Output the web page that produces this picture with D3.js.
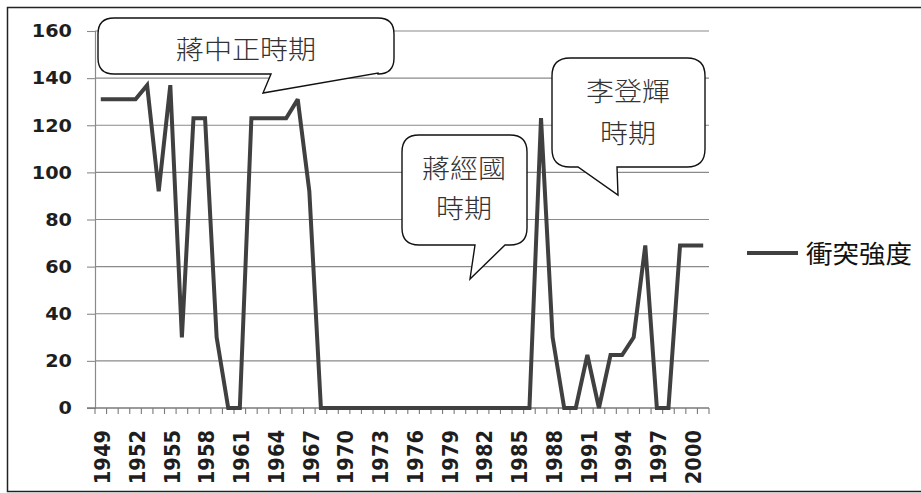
<!DOCTYPE html>
<html>
<head>
<meta charset="utf-8">
<script src="https://cdn.jsdelivr.net/npm/d3@7"></script>
<style>
  html, body { margin: 0; padding: 0; background: #fff; }
  svg { display: block; }
</style>
</head>
<body>
<svg id="chart" width="921" height="493"></svg>
<script>
// ---- data ----
const years = [1949,1950,1951,1952,1953,1954,1955,1956,1957,1958,1959,1960,1961,1962,1963,1964,1965,1966,1967,1968,
  1969,1970,1971,1972,1973,1974,1975,1976,1977,1978,1979,1980,1981,1982,1983,1984,1985,1986,
  1987,1988,1989,1990,1991,1992,1993,1994,1995,1996,1997,1998,1999,2000,2001];
const conflict = [131,131,131,131,137,92,137,30,123,123,30,0,0,123,123,123,123,131,92,0,
  0,0,0,0,0,0,0,0,0,0,0,0,0,0,0,0,0,0,
  123,30,0,0,22.5,0,22.5,22.5,30,69,0,0,69,69,69];
const yTicks = [0,20,40,60,80,100,120,140,160];
const xLabelYears = [1949,1952,1955,1958,1961,1964,1967,1970,1973,1976,1979,1982,1985,1988,1991,1994,1997,2000];
const seriesName = "衝突強度";
const callouts = [
  { lines: ["蔣中正時期"] },
  { lines: ["蔣經國", "時期"] },
  { lines: ["李登輝", "時期"] }
];

// ---- layout ----
const svg = d3.select("#chart");
const plot = { left: 95, right: 709, top: 31, bottom: 408 };
const x = d3.scaleBand().domain(years).range([plot.left, plot.right]).padding(0);
const y = d3.scaleLinear().domain([0, 160]).range([plot.bottom, plot.top]);
const cx = d => x(d) + x.bandwidth() / 2;
const SX = 1.1;
const numFont = "'DejaVu Sans', Verdana, sans-serif";
const cjkFont = "'Noto Sans CJK TC', 'Noto Sans CJK SC', sans-serif";

// frame (top, left, bottom)
svg.append("path").attr("d", "M921,7.5 H7.5 V491.5 H921")
  .attr("fill", "none").attr("stroke", "#222").attr("stroke-width", 1.5);

// gridlines
svg.append("g").selectAll("line").data(yTicks.filter(t => t > 0)).join("line")
  .attr("x1", plot.left).attr("x2", plot.right)
  .attr("y1", d => y(d)).attr("y2", d => y(d))
  .attr("stroke", "#8a8a8a").attr("stroke-width", 1.1);

// y axis
const yAxis = svg.append("g").attr("transform", `translate(${plot.left},0)`)
  .call(d3.axisLeft(y).tickValues(yTicks).tickSize(8).tickFormat(""));
yAxis.select(".domain").attr("stroke", "#8a8a8a").attr("stroke-width", 1.2);
yAxis.selectAll(".tick line").attr("stroke", "#8a8a8a").attr("stroke-width", 1.1);

svg.append("g").selectAll("text").data(yTicks).join("text")
  .attr("transform", d => `translate(72,${y(d)}) scale(${SX},1)`)
  .attr("text-anchor", "end").attr("dy", "0.36em")
  .attr("font-family", numFont).attr("font-weight", "bold").attr("font-size", 17.5)
  .attr("fill", "#1e1e1e").text(d => d);

// x axis line and boundary ticks
svg.append("line").attr("x1", 87).attr("x2", plot.right)
  .attr("y1", plot.bottom).attr("y2", plot.bottom)
  .attr("stroke", "#7a7a7a").attr("stroke-width", 1.3);
const bounds = years.map(d => x(d)).concat([plot.right]);
svg.append("g").selectAll("line").data(bounds).join("line")
  .attr("x1", d => d).attr("x2", d => d)
  .attr("y1", plot.bottom).attr("y2", plot.bottom + 6)
  .attr("stroke", "#7a7a7a").attr("stroke-width", 1.1);

svg.append("g").selectAll("text").data(xLabelYears).join("text")
  .attr("transform", d => `translate(${cx(d) + 1.5},430) scale(${SX},1) rotate(-90)`)
  .attr("text-anchor", "end").attr("dy", "0.36em")
  .attr("font-family", numFont).attr("font-weight", "bold").attr("font-size", 19.5)
  .attr("fill", "#1e1e1e").text(d => d);

// callout bubbles
function bubble(x0, y0, x1, y1, r, w) {
  const p = d3.path();
  p.moveTo(x0 + r, y0);
  p.lineTo(x1 - r, y0);
  p.quadraticCurveTo(x1, y0, x1, y0 + r);
  p.lineTo(x1, y1 - r);
  p.quadraticCurveTo(x1, y1, x1 - r, y1);
  p.lineTo(w.a[0], w.a[1]);
  p.lineTo(w.tip[0], w.tip[1]);
  p.lineTo(w.b[0], w.b[1]);
  p.lineTo(x0 + r, y1);
  p.quadraticCurveTo(x0, y1, x0, y1 - r);
  p.lineTo(x0, y0 + r);
  p.quadraticCurveTo(x0, y0, x0 + r, y0);
  p.closePath();
  return p.toString();
}
const bubbleShapes = [
  { d: bubble(98, 18, 394, 74, 16, { a: [378, 73], tip: [263, 93], b: [271, 74] }),
    cx: 246, cy: [50] },
  { d: bubble(402, 135, 527, 245, 17, { a: [505, 245], tip: [470, 279], b: [475, 245] }),
    cx: 464, cy: [169, 209] },
  { d: bubble(552, 58, 705, 167, 18, { a: [617, 167], tip: [618, 195], b: [578, 167] }),
    cx: 628, cy: [92, 134] }
];

// series line
const line = d3.line().x((d, i) => cx(years[i])).y(d => y(d));
svg.append("path").datum(conflict)
  .attr("d", line).attr("fill", "none")
  .attr("stroke", "#404040").attr("stroke-width", 4).attr("stroke-linejoin", "miter").attr("stroke-miterlimit", 3);

bubbleShapes.forEach((b, i) => {
  svg.append("path").attr("d", b.d).attr("fill", "#fff")
    .attr("stroke", "#111").attr("stroke-width", 1.4);
  callouts[i].lines.forEach((t, j) => {
    svg.append("text")
      .attr("transform", `translate(${b.cx},${b.cy[j]}) scale(1.08,1)`)
      .attr("text-anchor", "middle").attr("dy", "0.36em")
      .attr("font-family", cjkFont).attr("font-size", 26).attr("font-weight", 300)
      .attr("fill", "#333").text(t);
  });
});

// legend
svg.append("line").attr("x1", 747).attr("x2", 798).attr("y1", 253).attr("y2", 253)
  .attr("stroke", "#404040").attr("stroke-width", 4);
svg.append("text")
  .attr("transform", `translate(806,254) scale(1.06,1)`)
  .attr("dy", "0.36em")
  .attr("font-family", cjkFont).attr("font-size", 25)
  .attr("fill", "#111").text(seriesName);
</script>
</body>
</html>
